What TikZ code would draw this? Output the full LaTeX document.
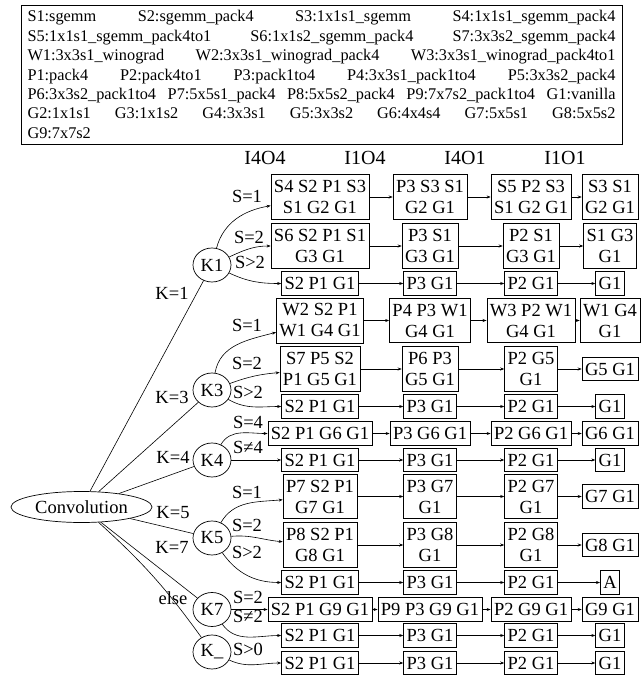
\documentclass[tikz,border=0pt]{standalone}
\usepackage{fontspec}
\setmainfont{Liberation Serif}
\usetikzlibrary{arrows.meta,shapes.geometric}
\tikzset{
    op/.style={rectangle,draw,align=center,inner xsep=3pt,inner ysep=5.6pt,line width=0.7pt,font=\fontsize{18.5}{21}\selectfont},
    kernel/.style={ellipse,draw,minimum width=38pt,minimum height=34pt,inner sep=0pt,line width=0.7pt,font=\fontsize{18.5}{21}\selectfont},
    root/.style={ellipse,draw,minimum width=141pt,minimum height=31pt,inner sep=0pt,line width=0.7pt,font=\fontsize{18.5}{21}\selectfont},
    cond/.style={inner sep=0pt,font=\fontsize{18.5}{21}\selectfont},
    layout/.style={inner sep=0pt,font=\fontsize{20}{24}\selectfont},
    legend/.style={draw,line width=0.7pt,minimum width=601pt,minimum height=139pt,text width=588pt,inner xsep=6.5pt,inner ysep=0pt,align=left,font=\fontsize{16.3}{19.45}\selectfont},
    post/.style={{Stealth[length=4pt,width=3pt]}-,line width=0.6pt},
    branch/.style={line width=0.6pt}
}

\begin{document}
\begin{tikzpicture}[x=1pt,y=1pt]
    \useasboundingbox (0,0) rectangle (644,-677);

    % kernel names
    \node[legend] (legend) at (321.5,-74.5) {%
        S1:sgemm\hfill S2:sgemm\_pack4\hfill S3:1x1s1\_sgemm\hfill S4:1x1s1\_sgemm\_pack4\\
        S5:1x1s1\_sgemm\_pack4to1\hfill S6:1x1s2\_sgemm\_pack4\hfill S7:3x3s2\_sgemm\_pack4\\
        W1:3x3s1\_winograd\hfill W2:3x3s1\_winograd\_pack4\hfill W3:3x3s1\_winograd\_pack4to1\\
        P1:pack4\hfill P2:pack4to1\hfill P3:pack1to4\hfill P4:3x3s1\_pack1to4\hfill P5:3x3s2\_pack4\\
        P6:3x3s2\_pack1to4\hfill P7:5x5s1\_pack4\hfill P8:5x5s2\_pack4\hfill P9:7x7s2\_pack1to4\hfill G1:vanilla\\
        G2:1x1s1\hfill G3:1x1s2\hfill G4:3x3s1\hfill G5:3x3s2\hfill G6:4x4s4\hfill G7:5x5s1\hfill G8:5x5s2\\
        G9:7x7s2};

    \node[layout] (i4o4) at (265,-158) {I4O4};
    \node[layout] (i1o4) at (365,-158) {I1O4};
    \node[layout] (i4o1) at (465,-158) {I4O1};
    \node[layout] (i1o1) at (565,-158) {I1O1};

    \node[root] (conv) at (81.5,-507) {Convolution};

    \node[kernel] (k1) at (212,-265) {K1}
        edge[branch] (conv);
    \node[kernel] (k3) at (212,-390) {K3}
        edge[branch] (conv);
    \node[kernel] (k4) at (212,-460) {K4}
        edge[branch] (conv);
    \node[kernel] (k5) at (212,-538) {K5}
        edge[branch] (conv);
    \node[kernel] (k7) at (212,-609.5) {K7}
        edge[branch] (conv);
    \node[kernel] (kx) at (212,-652) {K\_}
        edge[branch, bend right=6] (conv);

    \node[cond] (k1 lbl) at (172,-293) {K=1};
    \node[cond] (k3 lbl) at (172,-397) {K=3};
    \node[cond] (k4 lbl) at (173,-457) {K=4};
    \node[cond] (k5 lbl) at (173,-513) {K=5};
    \node[cond] (k7 lbl) at (172,-547) {K=7};
    \node[cond] (kx lbl) at (173,-598) {else};

    % K=1
    \node[op] (r1 c1) at (320,-197) {S4 S2 P1 S3\\S1 G2 G1}
        edge[post, out=190, in=75] (k1);
    \node[op] (r1 c2) at (430,-197) {P3 S3 S1\\G2 G1}
        edge[post] (r1 c1);
    \node[op] (r1 c3) at (531,-197) {S5 P2 S3\\S1 G2 G1}
        edge[post] (r1 c2);
    \node[op] (r1 c4) at (610,-197) {S3 S1\\G2 G1}
        edge[post] (r1 c3);

    \node[op] (r2 c1) at (320,-246) {S6 S2 P1 S1\\G3 G1}
        edge[post, out=180, in=25] (k1);
    \node[op] (r2 c2) at (430,-246) {P3 S1\\G3 G1}
        edge[post] (r2 c1);
    \node[op] (r2 c3) at (531,-246) {P2 S1\\G3 G1}
        edge[post] (r2 c2);
    \node[op] (r2 c4) at (610,-246) {S1 G3\\G1}
        edge[post] (r2 c3);

    \node[op] (r3 c1) at (320,-283.5) {S2 P1 G1}
        edge[post, out=180, in=-25] (k1);
    \node[op] (r3 c2) at (430,-283.5) {P3 G1}
        edge[post] (r3 c1);
    \node[op] (r3 c3) at (531,-283.5) {P2 G1}
        edge[post] (r3 c2);
    \node[op] (r3 c4) at (610,-283.5) {G1}
        edge[post] (r3 c3);

    \node[cond] (r1 lbl) at (247,-196) {S=1};
    \node[cond] (r2 lbl) at (249,-237) {S=2};
    \node[cond] (r3 lbl) at (250,-262) {S>2};

    % K=3
    \node[op] (r4 c1) at (320,-320.5) {W2 S2 P1\\W1 G4 G1}
        edge[post, out=195, in=80] (k3);
    \node[op] (r4 c2) at (430,-320.5) {P4 P3 W1\\G4 G1}
        edge[post] (r4 c1);
    \node[op] (r4 c3) at (531,-320.5) {W3 P2 W1\\G4 G1}
        edge[post] (r4 c2);
    \node[op] (r4 c4) at (610,-320.5) {W1 G4\\G1}
        edge[post] (r4 c3);

    \node[op] (r5 c1) at (320,-369) {S7 P5 S2\\P1 G5 G1}
        edge[post, out=185, in=20] (k3);
    \node[op] (r5 c2) at (430,-369) {P6 P3\\G5 G1}
        edge[post] (r5 c1);
    \node[op] (r5 c3) at (531,-369) {P2 G5\\G1}
        edge[post] (r5 c2);
    \node[op] (r5 c4) at (610,-369) {G5 G1}
        edge[post] (r5 c3);

    \node[op] (r6 c1) at (320,-406.5) {S2 P1 G1}
        edge[post, out=180, in=-30] (k3);
    \node[op] (r6 c2) at (430,-406.5) {P3 G1}
        edge[post] (r6 c1);
    \node[op] (r6 c3) at (531,-406.5) {P2 G1}
        edge[post] (r6 c2);
    \node[op] (r6 c4) at (610,-406.5) {G1}
        edge[post] (r6 c3);

    \node[cond] (r4 lbl) at (247,-325) {S=1};
    \node[cond] (r5 lbl) at (247,-363) {S=2};
    \node[cond] (r6 lbl) at (248,-392) {S>2};

    % K=4
    \node[op] (r7 c1) at (320,-433.5) {S2 P1 G6 G1}
        edge[post, out=180, in=60] (k4);
    \node[op] (r7 c2) at (430,-433.5) {P3 G6 G1}
        edge[post] (r7 c1);
    \node[op] (r7 c3) at (531,-433.5) {P2 G6 G1}
        edge[post] (r7 c2);
    \node[op] (r7 c4) at (610,-433.5) {G6 G1}
        edge[post] (r7 c3);

    \node[op] (r8 c1) at (320,-460) {S2 P1 G1}
        edge[post] (k4);
    \node[op] (r8 c2) at (430,-460) {P3 G1}
        edge[post] (r8 c1);
    \node[op] (r8 c3) at (531,-460) {P2 G1}
        edge[post] (r8 c2);
    \node[op] (r8 c4) at (610,-460) {G1}
        edge[post] (r8 c3);

    \node[cond] (r7 lbl) at (248,-422) {S=4};
    \node[cond] (r8 lbl) at (248,-447) {S≠4};

    % K=5
    \node[op] (r9 c1) at (320,-496.5) {P7 S2 P1\\G7 G1}
        edge[post, out=185, in=60] (k5);
    \node[op] (r9 c2) at (430,-496.5) {P3 G7\\G1}
        edge[post] (r9 c1);
    \node[op] (r9 c3) at (531,-496.5) {P2 G7\\G1}
        edge[post] (r9 c2);
    \node[op] (r9 c4) at (610,-496.5) {G7 G1}
        edge[post] (r9 c3);

    \node[op] (r10 c1) at (320,-545) {P8 S2 P1\\G8 G1}
        edge[post, out=175, in=5] (k5);
    \node[op] (r10 c2) at (430,-545) {P3 G8\\G1}
        edge[post] (r10 c1);
    \node[op] (r10 c3) at (531,-545) {P2 G8\\G1}
        edge[post] (r10 c2);
    \node[op] (r10 c4) at (610,-545) {G8 G1}
        edge[post] (r10 c3);

    \node[op] (r11 c1) at (320,-582.5) {S2 P1 G1}
        edge[post, out=180, in=-55] (k5);
    \node[op] (r11 c2) at (430,-582.5) {P3 G1}
        edge[post] (r11 c1);
    \node[op] (r11 c3) at (531,-582.5) {P2 G1}
        edge[post] (r11 c2);
    \node[op] (r11 c4) at (610,-582.5) {A}
        edge[post] (r11 c3);

    \node[cond] (r9 lbl) at (247,-492) {S=1};
    \node[cond] (r10 lbl) at (247,-525) {S=2};
    \node[cond] (r11 lbl) at (247,-552) {S>2};

    % K=7
    \node[op] (r12 c1) at (320,-609.5) {S2 P1 G9 G1}
        edge[post] (k7);
    \node[op] (r12 c2) at (430,-609.5) {P9 P3 G9 G1}
        edge[post] (r12 c1);
    \node[op] (r12 c3) at (531,-609.5) {P2 G9 G1}
        edge[post] (r12 c2);
    \node[op] (r12 c4) at (610,-609.5) {G9 G1}
        edge[post] (r12 c3);

    \node[op] (r13 c1) at (320,-635.5) {S2 P1 G1}
        edge[post, out=180, in=-55] (k7);
    \node[op] (r13 c2) at (430,-635.5) {P3 G1}
        edge[post] (r13 c1);
    \node[op] (r13 c3) at (531,-635.5) {P2 G1}
        edge[post] (r13 c2);
    \node[op] (r13 c4) at (610,-635.5) {G1}
        edge[post] (r13 c3);

    \node[cond] (r12 lbl) at (248,-597) {S=2};
    \node[cond] (r13 lbl) at (248,-616) {S≠2};

    % other K
    \node[op] (r14 c1) at (320,-663) {S2 P1 G1}
        edge[post, out=180, in=-25] (kx);
    \node[op] (r14 c2) at (430,-663) {P3 G1}
        edge[post] (r14 c1);
    \node[op] (r14 c3) at (531,-663) {P2 G1}
        edge[post] (r14 c2);
    \node[op] (r14 c4) at (610,-663) {G1}
        edge[post] (r14 c3);

    \node[cond] (r14 lbl) at (248,-649) {S>0};

\end{tikzpicture}
\end{document}
